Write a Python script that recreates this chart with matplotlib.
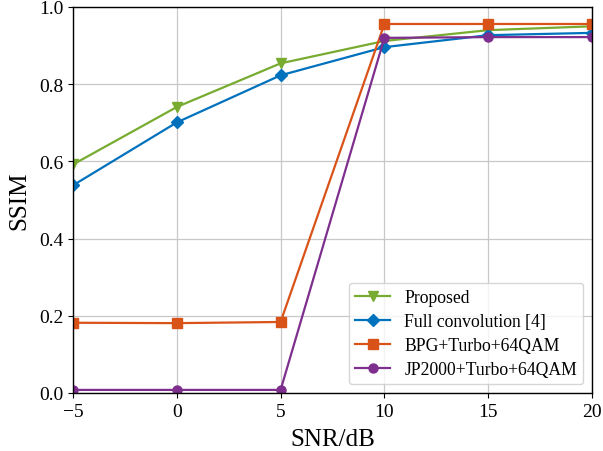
import matplotlib
matplotlib.use("Agg")
import matplotlib.pyplot as plt

plt.rcParams['font.family'] = ['Liberation Serif', 'DejaVu Serif']
plt.rcParams['mathtext.fontset'] = 'stix'

snr = [-5, 0, 5, 10, 15, 20]
proposed = [0.592, 0.741, 0.854, 0.912, 0.940, 0.950]
fullconv = [0.538, 0.701, 0.823, 0.896, 0.927, 0.933]
bpg = [0.182, 0.181, 0.184, 0.956, 0.956, 0.956]
jp2000 = [0.008, 0.008, 0.008, 0.920, 0.922, 0.922]

fig = plt.figure(figsize=(6.03, 4.52), dpi=100)
ax = fig.add_axes([73/603, 1-394/452, 519/603, 386/452])
ax.plot(snr, proposed, color='#77AC30', marker='v', markersize=7.5, linewidth=1.6, label='Proposed')
ax.plot(snr, fullconv, color='#0072BD', marker='D', markersize=6.5, linewidth=1.6, label='Full convolution [4]')
ax.plot(snr, bpg, color='#D95319', marker='s', markersize=6.5, linewidth=1.6, label='BPG+Turbo+64QAM')
ax.plot(snr, jp2000, color='#7E2F8E', marker='o', markersize=6.5, linewidth=1.6, label='JP2000+Turbo+64QAM')

ax.set_xlim(-5, 20)
ax.set_ylim(0, 1)
ax.set_xticks([-5, 0, 5, 10, 15, 20])
ax.set_xticklabels(['\u22125', '0', '5', '10', '15', '20'])
ax.set_yticks([0, 0.2, 0.4, 0.6, 0.8, 1.0])
ax.tick_params(labelsize=14)
ax.grid(True, color='#c8c8c8', linewidth=0.9)
ax.set_xlabel('SNR/dB', fontsize=18, labelpad=6)
ax.set_ylabel('SSIM', fontsize=18, labelpad=6)
ax.legend(loc='lower right', fontsize=12.7, framealpha=0.8, handlelength=2.0,
          labelspacing=0.4, borderpad=0.35)
for s in ax.spines.values():
    s.set_linewidth(1.0)

fig.savefig('out.png', dpi=100)
